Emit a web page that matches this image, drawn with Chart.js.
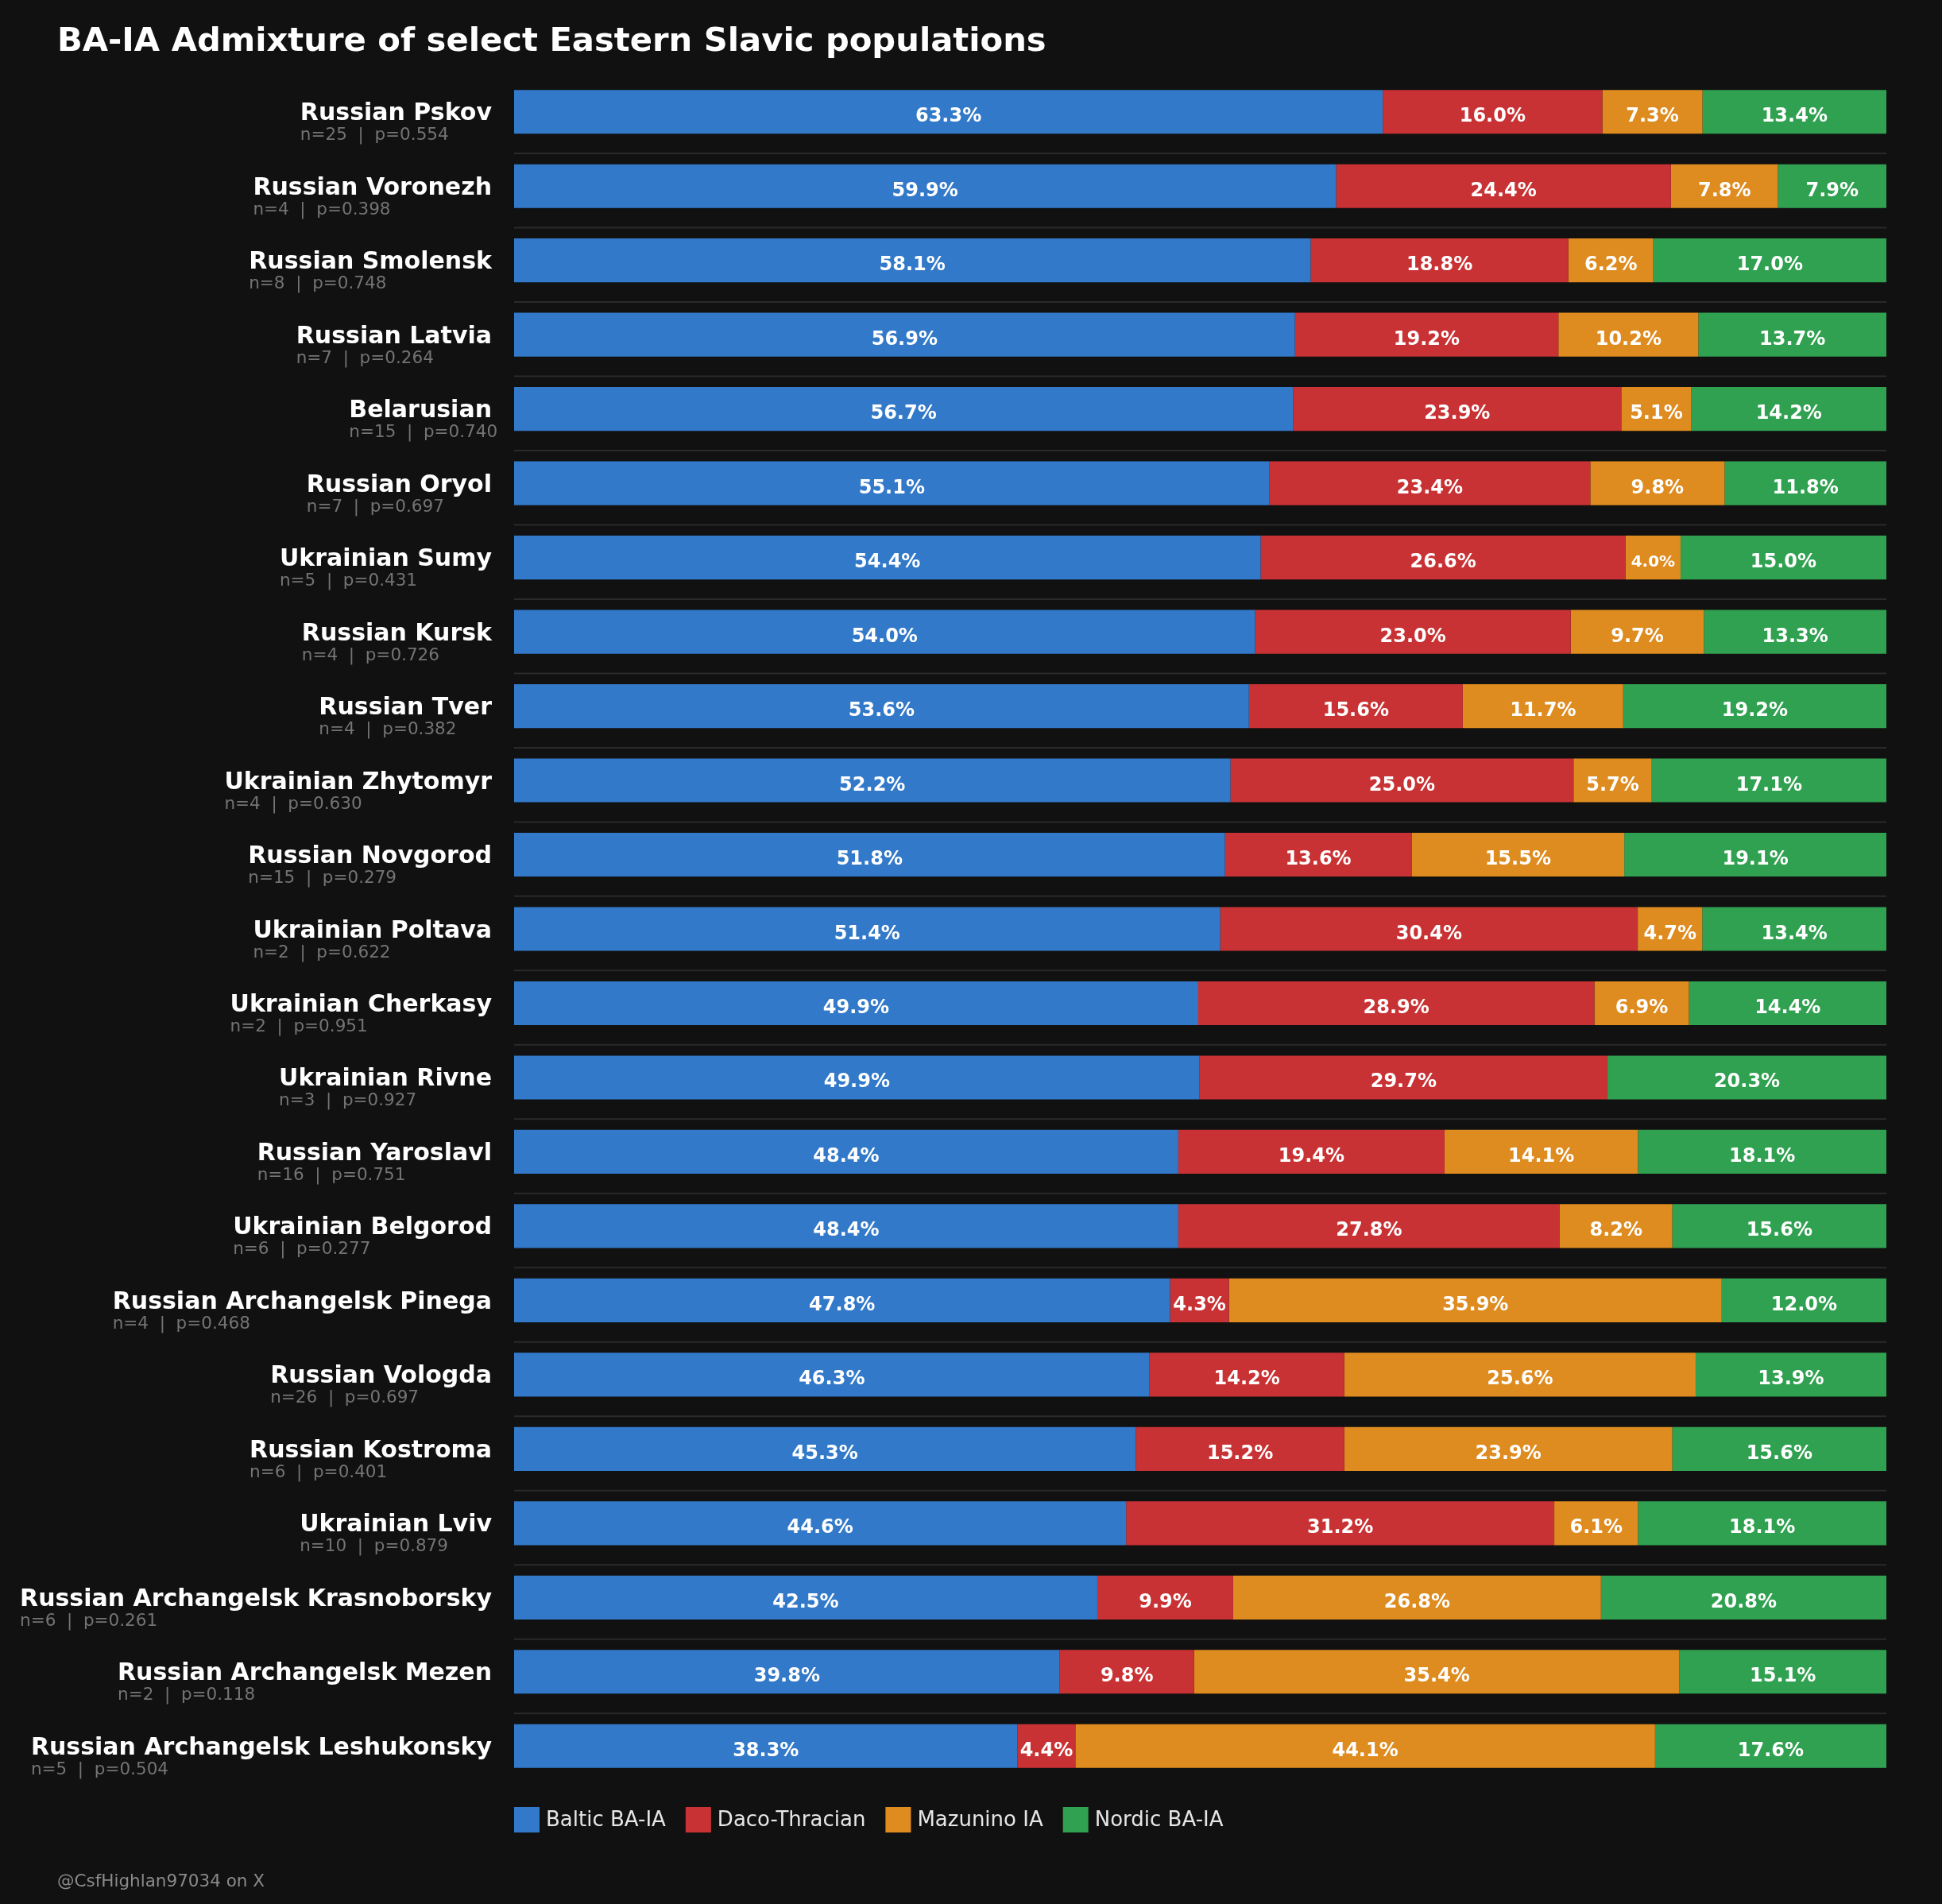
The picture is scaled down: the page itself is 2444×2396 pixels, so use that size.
<!DOCTYPE html>
<html>
<head>
<meta charset="utf-8">
<script src="https://cdn.jsdelivr.net/npm/chart.js@4.4.1/dist/chart.umd.min.js"></script>
<style>
html,body{margin:0;padding:0;background:#111111;}
#wrap{width:2444px;height:2396px;position:relative;}
canvas{display:block;}
</style>
</head>
<body>
<div id="wrap"><canvas id="c" width="2444" height="2396" style="width:2444px;height:2396px"></canvas></div>
<script>
const titleText = 'BA-IA Admixture of select Eastern Slavic populations';
const creditText = '@CsfHighlan97034 on X';
const seriesNames = ['Baltic BA-IA', 'Daco-Thracian', 'Mazunino IA', 'Nordic BA-IA'];
const seriesColors = ['#3279C9', '#C93234', '#DE8B1F', '#30A150'];

const populations = [
  'Russian Pskov', 'Russian Voronezh', 'Russian Smolensk', 'Russian Latvia', 'Belarusian',
  'Russian Oryol', 'Ukrainian Sumy', 'Russian Kursk', 'Russian Tver', 'Ukrainian Zhytomyr',
  'Russian Novgorod', 'Ukrainian Poltava', 'Ukrainian Cherkasy', 'Ukrainian Rivne', 'Russian Yaroslavl',
  'Ukrainian Belgorod', 'Russian Archangelsk Pinega', 'Russian Vologda', 'Russian Kostroma', 'Ukrainian Lviv',
  'Russian Archangelsk Krasnoborsky', 'Russian Archangelsk Mezen', 'Russian Archangelsk Leshukonsky'
];
const sampleSizes = [25, 4, 8, 7, 15, 7, 5, 4, 4, 4, 15, 2, 2, 3, 16, 6, 4, 26, 6, 10, 6, 2, 5];
const pValues = ['0.554', '0.398', '0.748', '0.264', '0.740', '0.697', '0.431', '0.726', '0.382', '0.630',
  '0.279', '0.622', '0.951', '0.927', '0.751', '0.277', '0.468', '0.697', '0.401', '0.879', '0.261', '0.118', '0.504'];

const baltic       = [63.3, 59.9, 58.1, 56.9, 56.7, 55.1, 54.4, 54.0, 53.6, 52.2, 51.8, 51.4, 49.9, 49.9, 48.4, 48.4, 47.8, 46.3, 45.3, 44.6, 42.5, 39.8, 38.3];
const dacoThracian = [16.0, 24.4, 18.8, 19.2, 23.9, 23.4, 26.6, 23.0, 15.6, 25.0, 13.6, 30.4, 28.9, 29.7, 19.4, 27.8, 4.3, 14.2, 15.2, 31.2, 9.9, 9.8, 4.4];
const mazunino     = [7.3, 7.8, 6.2, 10.2, 5.1, 9.8, 4.0, 9.7, 11.7, 5.7, 15.5, 4.7, 6.9, 0.0, 14.1, 8.2, 35.9, 25.6, 23.9, 6.1, 26.8, 35.4, 44.1];
const nordic       = [13.4, 7.9, 17.0, 13.7, 14.2, 11.8, 15.0, 13.3, 19.2, 17.1, 19.1, 13.4, 14.4, 20.3, 18.1, 15.6, 12.0, 13.9, 15.6, 18.1, 20.8, 15.1, 17.6];

const seriesValues = [baltic, dacoThracian, mazunino, nordic];
// bar widths are each row's shares scaled to the row total (labels show the raw values)
const rowTotals = populations.map((_, i) => seriesValues.reduce((s, arr) => s + arr[i], 0));

const FONT = '"DejaVu Sans", "Liberation Sans", sans-serif';

const decor = {
  id: 'decor',
  beforeDraw(chart) {
    const ctx = chart.ctx;
    ctx.save();
    ctx.fillStyle = '#111111';
    ctx.fillRect(0, 0, chart.width, chart.height);
    ctx.restore();
  },
  beforeDatasetsDraw(chart) {
    const ctx = chart.ctx, ys = chart.scales.y, area = chart.chartArea;
    ctx.save();
    ctx.strokeStyle = '#2a2a2a';
    ctx.lineWidth = 2;
    for (let i = 0; i < populations.length - 1; i++) {
      const a = ys.getPixelForValue(i), b = ys.getPixelForValue(i + 1);
      const y = (a + b) / 2 + (b - a) * 0.06;
      ctx.beginPath();
      ctx.moveTo(area.left, y);
      ctx.lineTo(area.right, y);
      ctx.stroke();
    }
    ctx.restore();
  },
  afterDatasetsDraw(chart) {
    const ctx = chart.ctx;
    ctx.save();
    ctx.fillStyle = '#ffffff';
    ctx.textAlign = 'center';
    ctx.textBaseline = 'alphabetic';
    chart.data.datasets.forEach((ds, di) => {
      const meta = chart.getDatasetMeta(di);
      meta.data.forEach((bar, i) => {
        const v = seriesValues[di][i];
        if (v < 1) return;
        const small = v <= 4.0;
        ctx.font = 'bold ' + (small ? 20 : 24) + 'px ' + FONT;
        const cx = (bar.x + bar.base) / 2;
        ctx.fillText(v.toFixed(1) + '%', cx, bar.y + (small ? 11 : 12.5));
      });
    });
    ctx.restore();
  },
  afterDraw(chart) {
    const ctx = chart.ctx, ys = chart.scales.y, area = chart.chartArea;
    ctx.save();
    // title
    ctx.fillStyle = '#ffffff';
    ctx.font = 'bold 41.7px ' + FONT;
    ctx.textAlign = 'left';
    ctx.textBaseline = 'alphabetic';
    ctx.fillText(titleText, 72, 64);
    // row labels
    const rightX = area.left - 28;
    populations.forEach((name, i) => {
      const y = ys.getPixelForValue(i);
      ctx.font = 'bold 30px ' + FONT;
      ctx.fillStyle = '#ffffff';
      ctx.textAlign = 'right';
      ctx.fillText(name, rightX, y + 10.5);
      const w = ctx.measureText(name).width;
      ctx.font = '21.5px ' + FONT;
      ctx.fillStyle = '#747474';
      ctx.textAlign = 'left';
      ctx.fillText('n=' + sampleSizes[i] + '  |  p=' + pValues[i], rightX - w, y + 35.5);
    });
    // legend
    let lx = area.left;
    const ly = area.bottom + 30;
    ctx.font = '26px ' + FONT;
    ctx.textBaseline = 'middle';
    chart.data.datasets.forEach((ds) => {
      ctx.fillStyle = ds.backgroundColor;
      ctx.fillRect(lx, ly, 32, 32);
      ctx.fillStyle = '#e6e6e6';
      ctx.fillText(ds.label, lx + 40, ly + 17);
      lx += 40 + ctx.measureText(ds.label).width + 25;
    });
    // credit
    ctx.textBaseline = 'alphabetic';
    ctx.font = '21.5px ' + FONT;
    ctx.fillStyle = '#8a8a8a';
    ctx.textAlign = 'left';
    ctx.fillText(creditText, 72, 2374);
    ctx.restore();
  }
};

const chart = new Chart(document.getElementById('c'), {
  type: 'bar',
  data: {
    labels: populations,
    datasets: seriesNames.map((name, k) => ({
      label: name,
      data: seriesValues[k].map((v, i) => v / rowTotals[i] * 100),
      backgroundColor: seriesColors[k],
      borderWidth: 0,
      barPercentage: 0.59,
      categoryPercentage: 1.0
    }))
  },
  options: {
    indexAxis: 'y',
    responsive: false,
    maintainAspectRatio: false,
    devicePixelRatio: 1,
    animation: false,
    layout: { padding: { left: 647, right: 70, top: 94, bottom: 152 } },
    scales: {
      x: { stacked: true, min: 0, max: 100, display: false },
      y: { stacked: true, display: false }
    },
    plugins: {
      title: { display: false },
      tooltip: { enabled: false },
      legend: { display: false }
    }
  },
  plugins: [decor]
});
</script>
</body>
</html>
